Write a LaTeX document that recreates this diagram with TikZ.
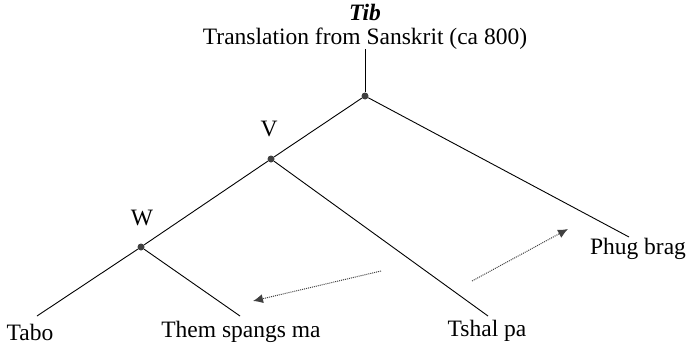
\documentclass[tikz,border=0pt]{standalone}
\usepackage{fontspec}
\setmainfont{Liberation Serif}
\usetikzlibrary{arrows.meta}
\begin{document}
\begin{tikzpicture}[x=1pt,y=-1pt,
  lbl/.style={inner sep=0pt,font=\fontsize{23.5}{26}\selectfont},
  dotnode/.style={circle,fill=black!75,inner sep=0pt,minimum size=7pt},
  branch/.style={line width=0.9pt},
  hint/.style={densely dotted,line width=1pt,black!75,-{Latex[length=10pt,width=9pt]}}]
\useasboundingbox (0,0) rectangle (689,348);
\node[lbl,font=\fontsize{23.5}{26}\selectfont\bfseries\itshape] (tib) at (365,12) {Tib};
\node[lbl] (trans) at (365,39) {Translation from Sanskrit (ca 800)};
\coordinate (top) at (365,49);
\node[dotnode] (root) at (365,96) {};
\node[dotnode] (v) at (271,159) {};
\node[dotnode] (w) at (141,247) {};
\node[lbl] (vl) at (269,129) {V};
\node[lbl] (wl) at (142,218) {W};
\node[lbl] (tabo) at (30,332) {Tabo};
\node[lbl] (them) at (241,332) {Them spangs ma};
\node[lbl] (tshal) at (487,331) {Tshal pa};
\node[lbl] (phug) at (638,249) {Phug brag};
\coordinate (eTabo) at (37,316);
\coordinate (eThem) at (240,316);
\coordinate (eTshal) at (488,316);
\coordinate (ePhug) at (629,237);
\draw[branch] (top) -- (root);
\draw[branch] (root) -- (v);
\draw[branch] (v) -- (w);
\draw[branch] (w) -- (eTabo);
\draw[branch] (w) -- (eThem);
\draw[branch] (v) -- (eTshal);
\draw[branch] (root) -- (ePhug);
\coordinate (a1s) at (381,271);
\coordinate (a1e) at (253,301);
\coordinate (a2s) at (472,281);
\coordinate (a2e) at (568,229);
\draw[hint] (a1s) -- (a1e);
\draw[hint] (a2s) -- (a2e);
\end{tikzpicture}
\end{document}
